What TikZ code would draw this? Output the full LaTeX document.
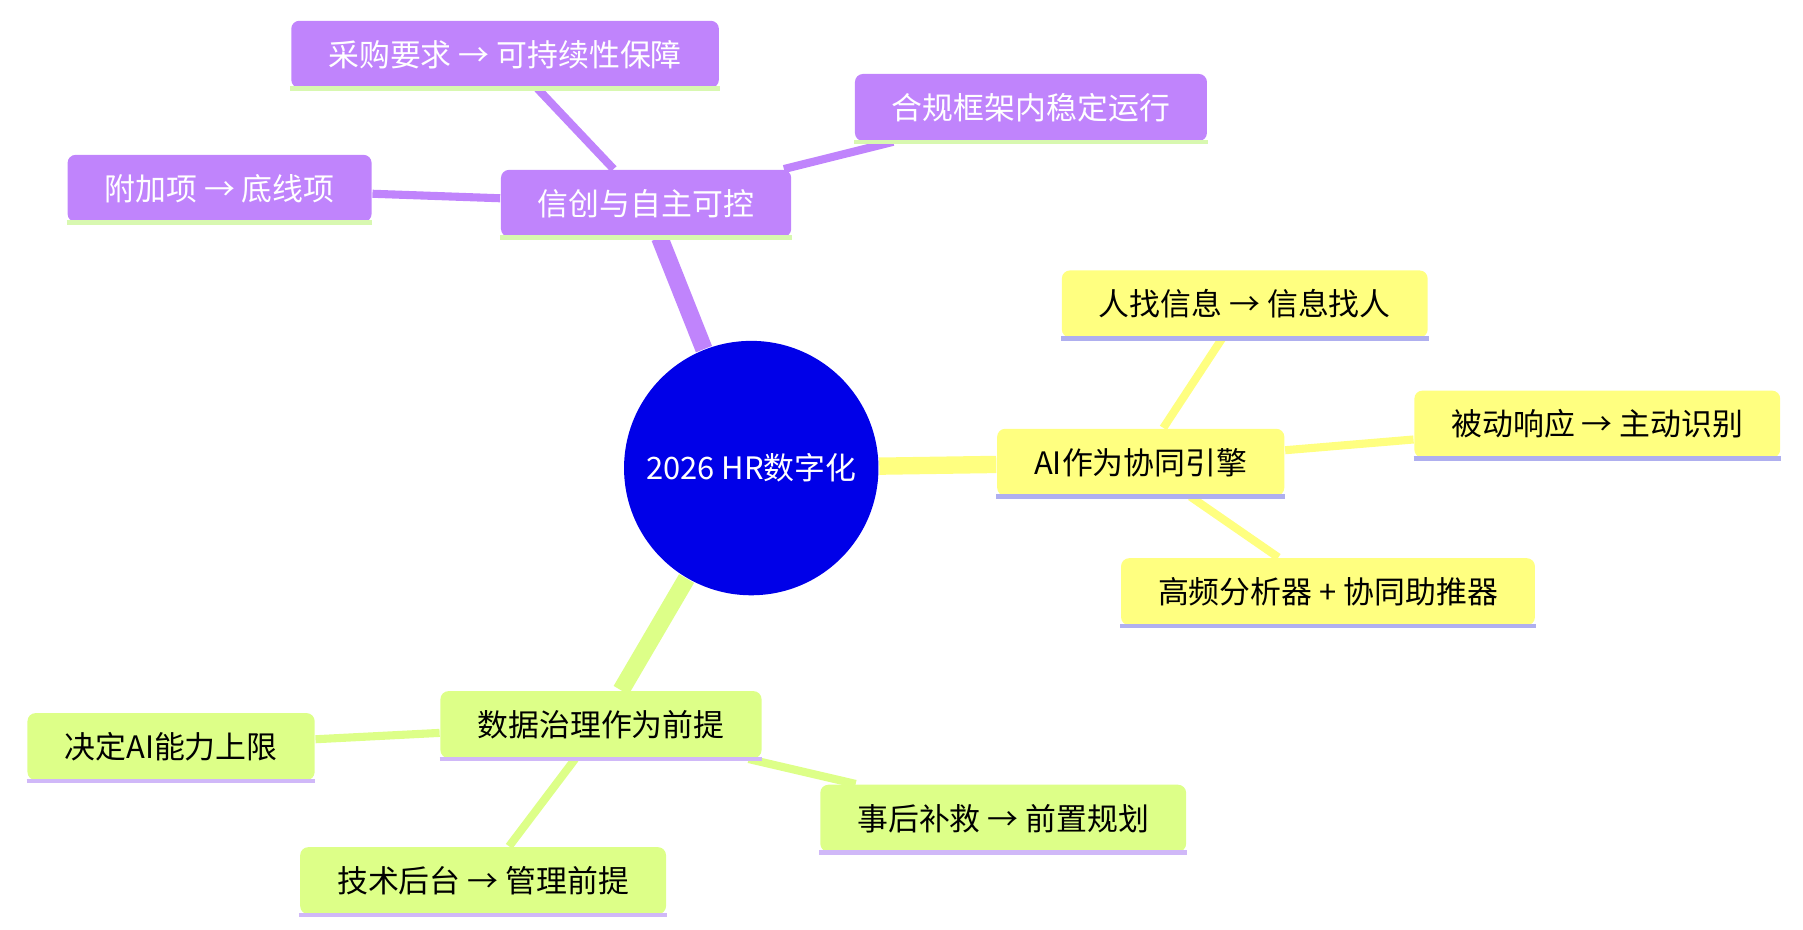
\documentclass[tikz,border=0pt]{standalone}
\usepackage{fontspec}
\newfontfamily\cjk{Noto Sans CJK SC}
\usetikzlibrary{backgrounds}
\definecolor{rootblue}{HTML}{0000E8}
\definecolor{purp}{HTML}{C084FC}
\definecolor{yel}{HTML}{FFFF80}
\definecolor{grn}{HTML}{DDFF88}
\definecolor{lav}{HTML}{AFAFEF}
\definecolor{lgrn}{HTML}{D8F8B0}
\definecolor{lpur}{HTML}{D0B8F8}

\begin{document}
\begin{tikzpicture}[x=0.01cm,y=-0.01cm,font=\cjk\fontsize{7.6}{9}\selectfont]
    \tikzstyle{box}=[rounded corners=2pt,minimum height=0.58cm,inner xsep=0.32cm]
    \tikzstyle{pbox}=[box,fill=purp,text=white]
    \tikzstyle{ybox}=[box,fill=yel,text=black]
    \tikzstyle{gbox}=[box,fill=grn,text=black]
    \tikzstyle{trunk}=[line width=0.15cm]
    \tikzstyle{twig}=[line width=0.07cm]

    \useasboundingbox (0,0) rectangle (1560,804);

    \node(root) [circle,fill=rootblue,text=white,minimum size=2.2cm] at (650,405) {2026 HR数字化};

    \node(xc)  [pbox] at (559,176) {信创与自主可控};
    \node(cg)  [pbox] at (437,47)  {采购要求 → 可持续性保障};
    \node(hg)  [pbox] at (892,93)  {合规框架内稳定运行};
    \node(fj)  [pbox] at (190,163) {附加项 → 底线项};

    \node(ai)  [ybox] at (987,400)  {AI作为协同引擎};
    \node(rz)  [ybox] at (1077,263) {人找信息 → 信息找人};
    \node(bd)  [ybox] at (1382,367) {被动响应 → 主动识别};
    \node(gp)  [ybox] at (1149,512) {高频分析器 + 协同助推器};

    \node(sj)  [gbox] at (520,627) {数据治理作为前提};
    \node(jd)  [gbox] at (148,646) {决定AI能力上限};
    \node(sh)  [gbox] at (868,708) {事后补救 → 前置规划};
    \node(js)  [gbox] at (418,762) {技术后台 → 管理前提};

    % underlines
    \foreach \n in {xc,cg,hg,fj}
        \draw [lgrn,line width=0.04cm] (\n.south west) -- (\n.south east);
    \foreach \n in {ai,rz,bd,gp}
        \draw [lav,line width=0.04cm] (\n.south west) -- (\n.south east);
    \foreach \n in {sj,jd,sh,js}
        \draw [lpur,line width=0.04cm] (\n.south west) -- (\n.south east);

    \begin{scope}[on background layer]
        \draw [trunk,purp] (root) -- (xc);
        \draw [trunk,yel] (root) -- (ai);
        \draw [trunk,grn] (root) -- (sj);
        \draw [twig,purp] (xc) -- (cg);
        \draw [twig,purp] (xc) -- (hg);
        \draw [twig,purp] (xc) -- (fj);
        \draw [twig,yel] (ai) -- (rz);
        \draw [twig,yel] (ai) -- (bd);
        \draw [twig,yel] (ai) -- (gp);
        \draw [twig,grn] (sj) -- (jd);
        \draw [twig,grn] (sj) -- (sh);
        \draw [twig,grn] (sj) -- (js);
    \end{scope}
\end{tikzpicture}
\end{document}
